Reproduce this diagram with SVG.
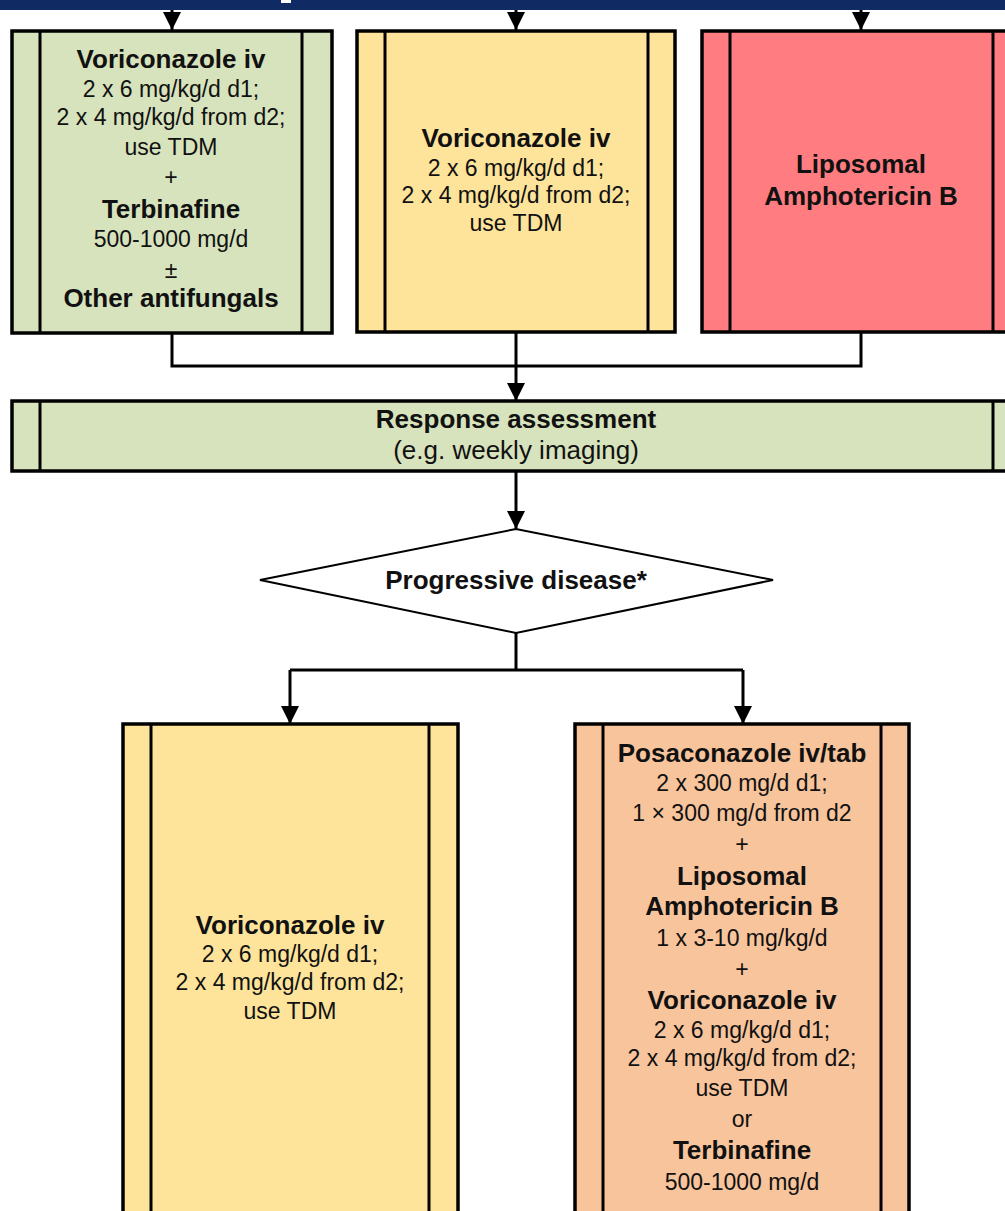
<svg xmlns="http://www.w3.org/2000/svg" width="1005" height="1211" viewBox="0 0 1005 1211">
<style>
.box{stroke:#000;stroke-width:3.5}
.inner{stroke:#000;stroke-width:3;fill:none}
.green{fill:#D7E3BC}
.yellow{fill:#FEE49A}
.red{fill:#FF7C80}
.peach{fill:#F8C49C}
.con{stroke:#000;stroke-width:3;fill:none}
text{font-family:"Liberation Sans",Arial,sans-serif;fill:#111;text-anchor:middle}
.b{font-weight:bold;font-size:26px}
.r{font-size:23px}
.rl{font-size:26px}
</style>
<defs>
<marker id="arr" viewBox="0 0 18 18" markerWidth="18" markerHeight="18" refX="18" refY="9" orient="auto" markerUnits="userSpaceOnUse">
<path d="M0,0 L18,9 L0,18 Z" fill="#000"/>
</marker>
</defs>
<rect x="0" y="0" width="1005" height="1211" fill="#fff"/>
<g id="header">
<rect x="0" y="0" width="1005" height="10" fill="#102B63"/>
<rect x="281" y="0" width="10" height="3" fill="#fff"/>
</g>
<g id="connectors">
<line class="con" x1="172" y1="10" x2="172" y2="30" marker-end="url(#arr)"/>
<line class="con" x1="516" y1="10" x2="516" y2="30" marker-end="url(#arr)"/>
<line class="con" x1="861" y1="10" x2="861" y2="30" marker-end="url(#arr)"/>
<path class="con" d="M172,333 V366 H861 V333 M516,332 V366"/>
<line class="con" x1="516" y1="366" x2="516" y2="401" marker-end="url(#arr)"/>
<line class="con" x1="516" y1="471" x2="516" y2="529" marker-end="url(#arr)"/>
<path class="con" d="M516,633 V670 M290,670 H743"/>
<line class="con" x1="290" y1="670" x2="290" y2="724" marker-end="url(#arr)"/>
<line class="con" x1="743" y1="670" x2="743" y2="724" marker-end="url(#arr)"/>
</g>
<g id="box-vori-terb">
<rect class="box green" x="12" y="31" width="320" height="302"/>
<line class="inner" x1="40" y1="31" x2="40" y2="333"/>
<line class="inner" x1="302" y1="31" x2="302" y2="333"/>
<text class="b" x="171" y="68">Voriconazole iv</text>
<text class="r" x="171" y="97">2 x 6 mg/kg/d d1;</text>
<text class="r" x="171" y="125">2 x 4 mg/kg/d from d2;</text>
<text class="r" x="171" y="155">use TDM</text>
<text class="r" x="171" y="185">+</text>
<text class="b" x="171" y="218">Terbinafine</text>
<text class="r" x="171" y="247">500-1000 mg/d</text>
<text class="r" x="171" y="278">±</text>
<text class="b" x="171" y="307">Other antifungals</text>
</g>
<g id="box-vori-1">
<rect class="box yellow" x="357" y="31" width="318" height="301"/>
<line class="inner" x1="385" y1="31" x2="385" y2="332"/>
<line class="inner" x1="648" y1="31" x2="648" y2="332"/>
<text class="b" x="516" y="147">Voriconazole iv</text>
<text class="r" x="516" y="176">2 x 6 mg/kg/d d1;</text>
<text class="r" x="516" y="203">2 x 4 mg/kg/d from d2;</text>
<text class="r" x="516" y="231">use TDM</text>
</g>
<g id="box-lamb">
<rect class="box red" x="702" y="31" width="320" height="301"/>
<line class="inner" x1="730" y1="31" x2="730" y2="332"/>
<line class="inner" x1="993" y1="31" x2="993" y2="332"/>
<text class="b" x="861" y="173">Liposomal</text>
<text class="b" x="861" y="205">Amphotericin B</text>
</g>
<g id="response">
<rect class="box green" x="12" y="401" width="1010" height="70"/>
<line class="inner" x1="40" y1="401" x2="40" y2="471"/>
<line class="inner" x1="993" y1="401" x2="993" y2="471"/>
<text class="b" x="516" y="428">Response assessment</text>
<text class="rl" x="516" y="459">(e.g. weekly imaging)</text>
</g>
<g id="decision">
<polygon points="260,580 516,529 773,580 516,633" fill="#fff" stroke="#000" stroke-width="2"/>
<text class="b" x="516" y="589">Progressive disease*</text>
</g>
<g id="box-vori-2">
<rect class="box yellow" x="123" y="724" width="335" height="510"/>
<line class="inner" x1="151" y1="724" x2="151" y2="1234"/>
<line class="inner" x1="429" y1="724" x2="429" y2="1234"/>
<text class="b" x="290" y="934">Voriconazole iv</text>
<text class="r" x="290" y="962">2 x 6 mg/kg/d d1;</text>
<text class="r" x="290" y="990">2 x 4 mg/kg/d from d2;</text>
<text class="r" x="290" y="1019">use TDM</text>
</g>
<g id="box-combo">
<rect class="box peach" x="575" y="724" width="334" height="510"/>
<line class="inner" x1="603" y1="724" x2="603" y2="1234"/>
<line class="inner" x1="881" y1="724" x2="881" y2="1234"/>
<text class="b" x="742" y="762">Posaconazole iv/tab</text>
<text class="r" x="742" y="791">2 x 300 mg/d d1;</text>
<text class="r" x="742" y="821">1 × 300 mg/d from d2</text>
<text class="r" x="742" y="852">+</text>
<text class="b" x="742" y="885">Liposomal</text>
<text class="b" x="742" y="915">Amphotericin B</text>
<text class="r" x="742" y="946">1 x 3-10 mg/kg/d</text>
<text class="r" x="742" y="977">+</text>
<text class="b" x="742" y="1009">Voriconazole iv</text>
<text class="r" x="742" y="1038">2 x 6 mg/kg/d d1;</text>
<text class="r" x="742" y="1066">2 x 4 mg/kg/d from d2;</text>
<text class="r" x="742" y="1096">use TDM</text>
<text class="r" x="742" y="1127">or</text>
<text class="b" x="742" y="1159">Terbinafine</text>
<text class="r" x="742" y="1190">500-1000 mg/d</text>
</g>
</svg>
